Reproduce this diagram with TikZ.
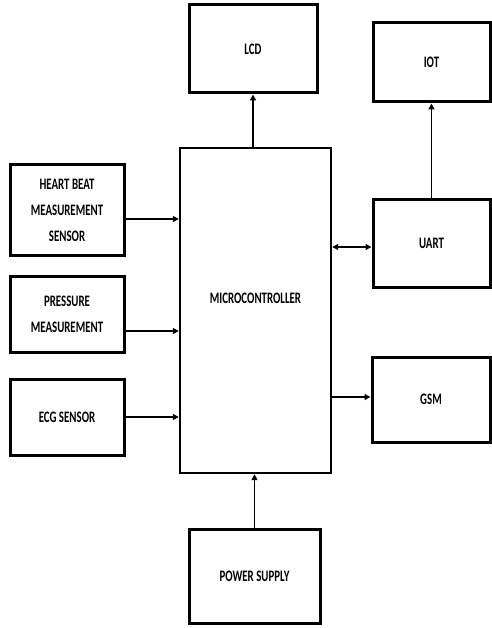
\documentclass[tikz,border=0pt]{standalone}
\usepackage{fontspec}
\newfontfamily\labfont[FakeStretch=0.68]{Carlito}
\usetikzlibrary{arrows.meta,calc}
\tikzset{
  blk/.style={draw=black, line width=3pt, fill=white, inner sep=0pt, align=center,
    font=\labfont\bfseries\fontsize{16}{26}\selectfont},
  arr/.style={line width=1.5pt, -{Triangle[length=6pt,width=6pt]}},
  biarr/.style={line width=1.5pt, {Triangle[length=6pt,width=6pt]}-{Triangle[length=6pt,width=6pt]}}
}
\begin{document}
\begin{tikzpicture}[x=1pt,y=-1pt]
\fill[white] (0,0) rectangle (491,628);
\useasboundingbox (0,0) rectangle (491,628);
% boxes
\node[blk, minimum width=128pt, minimum height=88pt] (lcd) at (253,49) {LCD};
\node[blk, minimum width=117pt, minimum height=79pt] (iot) at (431.5,62.5) {IOT};
\node[blk, line width=2.4pt, minimum width=151pt, minimum height=325pt,
  label={[font=\labfont\bfseries\fontsize{16}{26}\selectfont, yshift=12pt]center:MICROCONTROLLER}] (mc) at (255.5,310.5) {};
\node[blk, minimum width=117pt, minimum height=87pt] (uart) at (431.5,243.5) {UART};
\node[blk, minimum width=118pt, minimum height=85pt] (gsm) at (431,399.5) {GSM};
\node[blk, minimum width=131pt, minimum height=94pt] (ps) at (254.5,576) {POWER SUPPLY};
\node[blk, minimum width=114pt, minimum height=90pt] (hb) at (67,210) {HEART BEAT\\MEASUREMENT\\SENSOR};
\node[blk, minimum width=114pt, minimum height=76pt] (pr) at (67,314) {PRESSURE\\MEASUREMENT};
\node[blk, minimum width=114pt, minimum height=76pt] (ecg) at (67,417) {ECG SENSOR};
% connectors
\coordinate (h1) at ([yshift=-9pt]hb.east);
\coordinate (p1) at ([yshift=-17pt]pr.east);
\coordinate (e1) at (ecg.east);
\draw[arr] (h1) -- (h1 -| mc.west);
\draw[arr] (p1) -- (p1 -| mc.west);
\draw[arr] (e1) -- (e1 -| mc.west);
\draw[arr] (mc.north -| lcd.south) -- (lcd.south);
\draw[arr] (ps.north) -- (ps.north |- mc.south);
\coordinate (u1) at ([yshift=-3.5pt]uart.west);
\draw[biarr] (u1 -| mc.east) -- (u1);
\coordinate (g1) at ([yshift=2.5pt]gsm.west);
\draw[arr] (g1 -| mc.east) -- (g1);
\draw[arr] (uart.north) -- (iot.south);
\end{tikzpicture}
\end{document}
